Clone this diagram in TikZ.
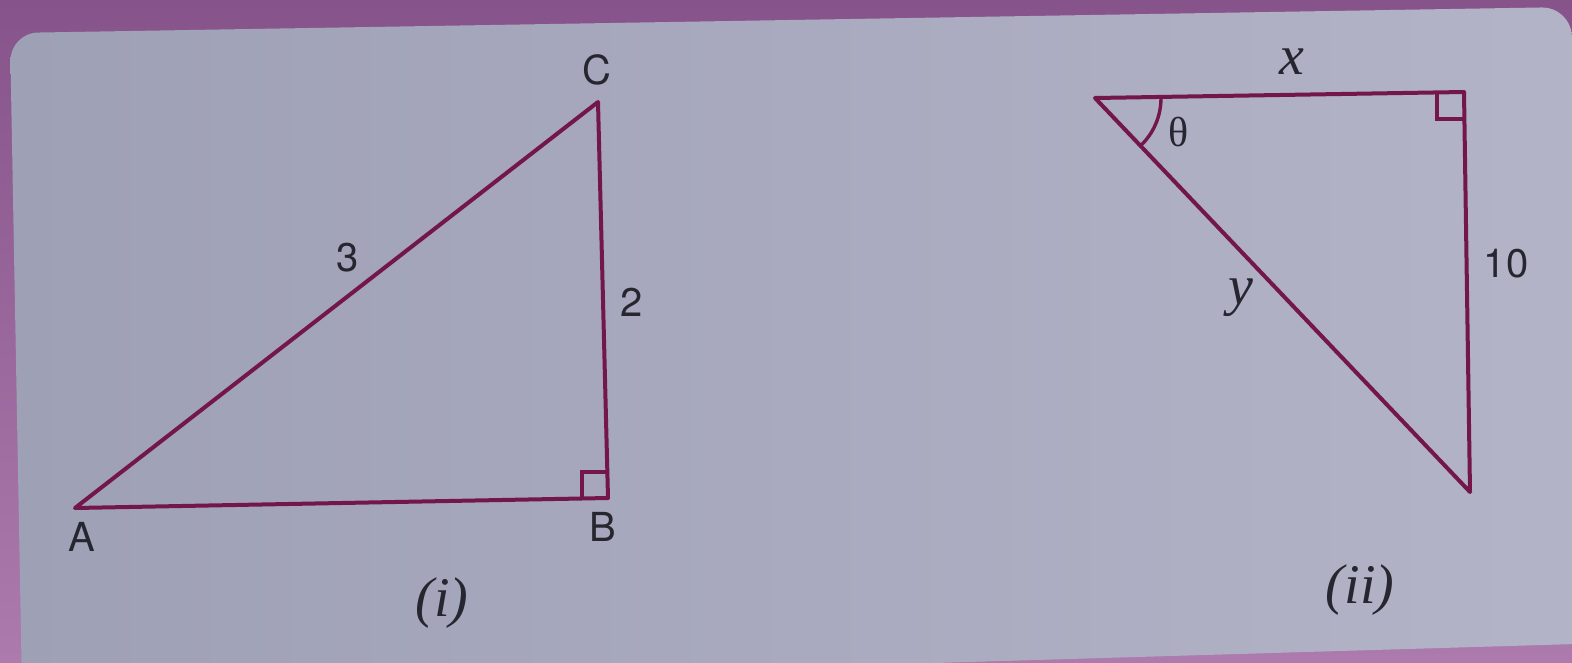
\documentclass[tikz,border=0pt]{standalone}
\usepackage{fontspec}
\setmainfont{Liberation Serif}
\newfontfamily\helv{TeX Gyre Heros}
\usetikzlibrary{calc}
\definecolor{bordtop}{RGB}{134,84,138}
\definecolor{bordbot}{RGB}{172,122,172}
\definecolor{panelL}{RGB}{158,160,182}
\definecolor{panelR}{RGB}{180,180,200}
\definecolor{linecol}{RGB}{115,22,74}
\definecolor{txt}{RGB}{38,38,48}
\begin{document}
\begin{tikzpicture}[x=1pt,y=-1pt,
  edge/.style={draw=linecol, line width=4pt, line join=round, line cap=round},
  thinedge/.style={draw=linecol, line width=3.4pt, line join=miter},
  sans/.style={font=\helv\fontsize{40}{40}\selectfont, text=txt, inner sep=0pt},
  ital/.style={font=\fontsize{56}{56}\selectfont\itshape, text=txt, inner sep=0pt},
  greek/.style={font=\fontsize{42}{42}\selectfont, text=txt, inner sep=0pt}]
\useasboundingbox (0,0) rectangle (1572,662);
% background
\shade[top color=bordtop, bottom color=bordbot] (0,0) rectangle (1572,662);
\begin{scope}
\clip (0,0) rectangle (1572,662);
\shade[left color=panelL, right color=panelR, rounded corners=28pt]
  (10,33) -- (1570,7) -- (1610,643) -- (22,690) -- cycle;
\end{scope}
% triangle (i)
\coordinate (A) at (75,508);
\coordinate (B) at (608,498);
\coordinate (C) at (598,102);
\draw[edge] (A) -- (B) -- (C) -- cycle;
\draw[thinedge] ($(B)+(-26,0)$) -- ++(0,-26) -- ++(26,0);
\node[sans] (lA) at (82,537) {A};
\node[sans] (lB) at (603,527) {B};
\node[sans] (lC) at (597,70) {C};
\node[sans] (l3) at (348,258) {3};
\node[sans] (l2) at (632,302) {2};
\node[ital] (li) at (442,603) {(i)};
% triangle (ii)
\coordinate (P) at (1095,98);
\coordinate (Q) at (1464,92);
\coordinate (R) at (1470,492);
\draw[edge] (P) -- (Q) -- (R) -- cycle;
\draw[thinedge] ($(Q)+(-27,0)$) -- ++(0,27) -- ++(27,0);
\draw[thinedge] ($(P)+(66,0)$) arc[start angle=0, end angle=46.4, radius=66];
\node[greek] (lt) at (1179,132) {θ};
\node[ital] (lx) at (1292,62) {x};
\node[ital] (ly) at (1241,298) {y};
\node[sans] (l10) at (1506,264) {10};
\node[ital] (lii) at (1360,590) {(ii)};
\end{tikzpicture}
\end{document}
